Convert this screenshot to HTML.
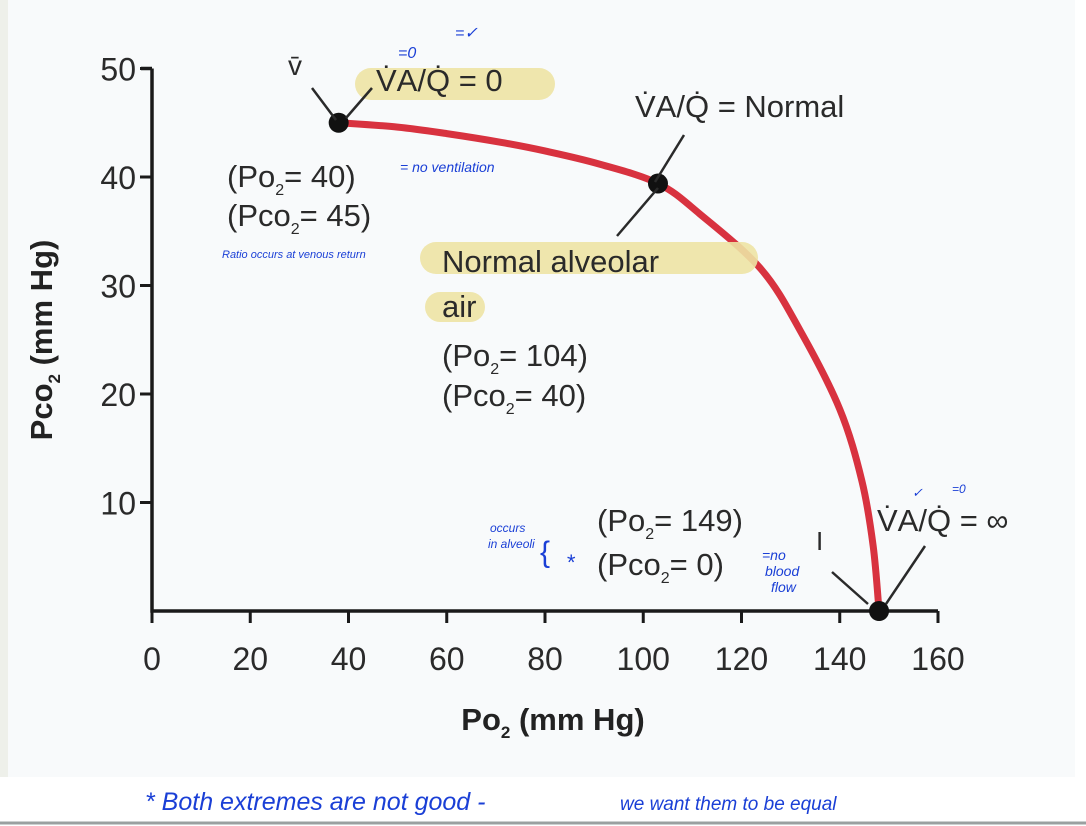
<!DOCTYPE html>
<html><head><meta charset="utf-8">
<style>
html,body{margin:0;padding:0;width:1086px;height:826px;background:#fff;overflow:hidden;font-family:"Liberation Sans",sans-serif}
svg{position:absolute;left:0;top:0}
.hw{font-family:"Liberation Sans",sans-serif;fill:#1a3fd6;font-style:italic}
</style></head><body>
<svg width="1086" height="826">
<rect x="0" y="0" width="1075" height="777" fill="#f8fafb"/>
<rect x="0" y="0" width="8" height="777" fill="#eef0ea"/>
<line x1="0" y1="823" x2="1086" y2="823" stroke="#9aa0a0" stroke-width="3"/>
<g id="axes"></g>
<g id="marks"></g>
<rect x="355" y="68" width="200" height="32" rx="16" fill="#ede3a4" opacity="0.9"/>
<rect x="420" y="242" width="338" height="32" rx="16" fill="#ede3a4" opacity="0.9"/>
<rect x="425" y="292" width="60" height="30" rx="15" fill="#ede3a4" opacity="0.9"/>
<g font-size="31" fill="#2a2a2a">
<text x="288" y="75" font-size="28">v̄</text>
<text x="376" y="91">V̇A/Q̇ = 0</text>
<text x="635" y="117">V̇A/Q̇ = Normal</text>
<text x="227" y="187">(Po<tspan font-size="16" dy="8">2</tspan><tspan dy="-8">= 40)</tspan></text>
<text x="227" y="226">(Pco<tspan font-size="16" dy="8">2</tspan><tspan dy="-8">= 45)</tspan></text>
<text x="442" y="272">Normal alveolar</text>
<text x="442" y="317">air</text>
<text x="442" y="366">(Po<tspan font-size="16" dy="8">2</tspan><tspan dy="-8">= 104)</tspan></text>
<text x="442" y="406">(Pco<tspan font-size="16" dy="8">2</tspan><tspan dy="-8">= 40)</tspan></text>
<text x="597" y="531">(Po<tspan font-size="16" dy="8">2</tspan><tspan dy="-8">= 149)</tspan></text>
<text x="597" y="575">(Pco<tspan font-size="16" dy="8">2</tspan><tspan dy="-8">= 0)</tspan></text>
<text x="877" y="531">V̇A/Q̇ = ∞</text>
<text x="816" y="550" font-size="26">I</text>
</g>
<g stroke="#2a2a2a" stroke-width="2.5" fill="none">
<line x1="312" y1="88" x2="336" y2="120"/><line x1="346" y1="118" x2="372" y2="88"/>
<line x1="684" y1="135" x2="655" y2="182"/><line x1="658" y1="188" x2="617" y2="236"/>
<line x1="832" y1="572" x2="868" y2="604"/><line x1="886" y1="604" x2="925" y2="546"/>
</g>
<g class="hw">
<text x="398" y="58" font-size="16">=0</text><text x="455" y="38" font-size="16">=✓</text>
<text x="400" y="172" font-size="14">= no ventilation</text>
<text x="222" y="258" font-size="11">Ratio occurs at venous return</text>
<text x="490" y="532" font-size="12">occurs</text><text x="488" y="548" font-size="12">in alveoli</text>
<text x="540" y="562" font-size="30" font-style="normal">{</text>
<text x="566" y="570" font-size="22">*</text>
<text x="762" y="560" font-size="14">=no</text><text x="765" y="576" font-size="14">blood</text><text x="771" y="592" font-size="14">flow</text>
<text x="912" y="497" font-size="13">✓</text><text x="952" y="493" font-size="12">=0</text>
<text x="145" y="810" font-size="25">* Both extremes are not good -</text>
<text x="620" y="810" font-size="19">we want them to be equal</text>
</g>
</svg>
<script>
const xTicks=[0,20,40,60,80,100,120,140,160];
const yTicks=[10,20,30,40,50];
const curvePo2=[38,50,60,71,80,91,103,111.5,124,132,140,144.5,146.8,148];
const curvePco2=[45,44.6,44,43.2,42.4,41.2,39.4,36.6,31.5,25.8,18.6,12,6,0];
const pointPo2=[38,103,148];
const pointPco2=[45,39.4,0];
const X=v=>152+v*4.9125;
const Y=v=>611-v*10.85;
const NS="http://www.w3.org/2000/svg";
function mk(t,a,p){const e=document.createElementNS(NS,t);for(const k in a)e.setAttribute(k,a[k]);p.appendChild(e);return e;}
const ax=document.getElementById('axes');
let e=mk('path',{d:`M${X(0)} ${Y(50)} L${X(0)} ${Y(0)} L${X(160)} ${Y(0)} M${X(0)-11} ${Y(50)} L${X(0)} ${Y(50)}`,stroke:'#1a1a1a','stroke-width':3.5,fill:'none'},ax);


xTicks.forEach(v=>{
 let t=mk('line',{x1:X(v),x2:X(v),y1:Y(0),y2:Y(0)+12,stroke:'#1a1a1a','stroke-width':3},ax);
 
 
 let l=mk('text',{x:X(v),y:670,'font-size':32,'text-anchor':'middle',fill:'#2a2a2a'},ax);l.textContent=v;
 
 
});
yTicks.forEach(v=>{
 let t=mk('line',{x1:X(0)-12,x2:X(0),y1:Y(v),y2:Y(v),stroke:'#1a1a1a','stroke-width':3},ax);
 
 
 let l=mk('text',{x:X(0)-16,y:Y(v)+12,'font-size':32,'text-anchor':'end',fill:'#2a2a2a'},ax);l.textContent=v;
 
 
});
let xt=mk('text',{x:553,y:730,'font-size':31,'font-weight':'bold','text-anchor':'middle',fill:'#222'},ax);
xt.innerHTML='Po<tspan font-size="17" dy="8">2</tspan><tspan dy="-8"> (mm Hg)</tspan>';


let yt=mk('text',{x:0,y:0,'font-size':31,'font-weight':'bold','text-anchor':'middle',fill:'#222',transform:'translate(52,340) rotate(-90)'},ax);
yt.innerHTML='Pco<tspan font-size="17" dy="8">2</tspan><tspan dy="-8"> (mm Hg)</tspan>';


const mg=document.getElementById('marks');
let pts=curvePo2.map((v,i)=>[X(v),Y(curvePco2[i])]);
let d='M'+pts[0].join(' ');
for(let i=0;i<pts.length-1;i++){const p0=pts[i-1]||pts[i],p1=pts[i],p2=pts[i+1],p3=pts[i+2]||p2;
 d+=` C${p1[0]+(p2[0]-p0[0])/6} ${p1[1]+(p2[1]-p0[1])/6} ${p2[0]-(p3[0]-p1[0])/6} ${p2[1]-(p3[1]-p1[1])/6} ${p2[0]} ${p2[1]}`;}
let c=mk('path',{d,stroke:'#d8323f','stroke-width':7,fill:'none','stroke-linecap':'round'},mg);


pointPo2.forEach((v,i)=>{let p=mk('circle',{cx:X(v),cy:Y(pointPco2[i]),r:10,fill:'#111'},mg);
 
 });
</script>
</body></html>
